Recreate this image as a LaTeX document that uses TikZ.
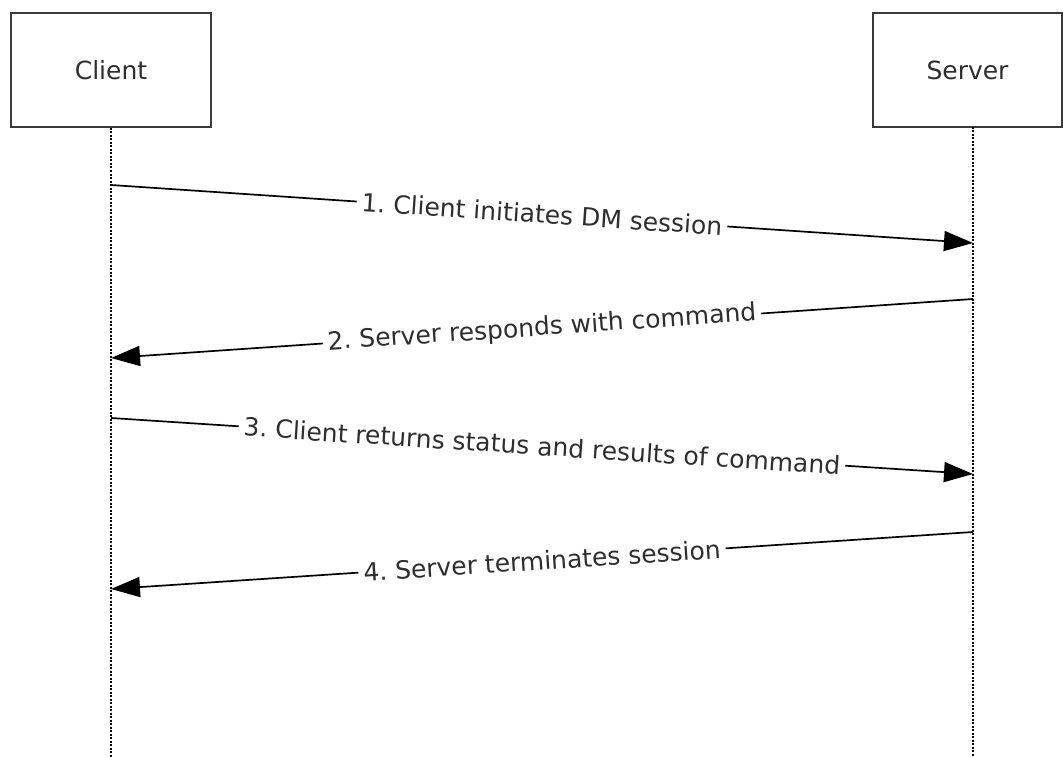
\documentclass[tikz,border=0pt]{standalone}
\usepackage{fontspec}
\setmainfont{DejaVu Sans}
\usepackage{xcolor}
\usetikzlibrary{arrows.meta, positioning}

\definecolor{boxgray}{HTML}{3A3A3A}
\definecolor{textgray}{HTML}{2E2E2E}

\begin{document}
\frenchspacing
\begin{tikzpicture}[x=1pt, y=-1pt,
    font=\fontsize{25}{30}\selectfont,
    actor/.style={draw=boxgray, line width=2pt, text=textgray,
        minimum height=114pt, inner sep=0pt},
    lifeline/.style={draw=black, line width=2pt,
        dash pattern=on 2pt off 1.5pt},
    msg/.style={draw=black, line width=1.7pt,
        -{Triangle[length=29pt, width=20pt]}},
    msglabel/.style={fill=white, text=textgray, sloped,
        inner xsep=5pt, inner ysep=2pt}]

    \useasboundingbox (0,0) rectangle (1063,757);

    % Add the actors
    \node[actor,
        minimum width=200pt
        ] (client) at (111,70) {Client};
    \node[actor,
        minimum width=189pt
        ] (server) at (967.5,70) {Server};

    % lifelines
    \coordinate (stop) at (973,127);
    \coordinate (cend) at (111,757);
    \coordinate (send) at (973,757);
    \draw[lifeline] (client.south) -- (cend);
    \draw[lifeline] (stop) -- (send);

    % message ends
    \coordinate (c1) at (111,185);
    \coordinate (s1) at (973,243);
    \coordinate (s2) at (973,299);
    \coordinate (c2) at (111,358);
    \coordinate (c3) at (111,418);
    \coordinate (s3) at (973,474);
    \coordinate (s4) at (973,532);
    \coordinate (c4) at (111,589);

    \path
        (c1) edge[msg] node[msglabel] {1. Client initiates DM session} (s1)
        (s2) edge[msg] node[msglabel] {2. Server responds with command} (c2)
        (c3) edge[msg] node[msglabel] {3. Client returns status and results of command} (s3)
        (s4) edge[msg] node[msglabel] {4. Server terminates session} (c4);
\end{tikzpicture}
\end{document}
